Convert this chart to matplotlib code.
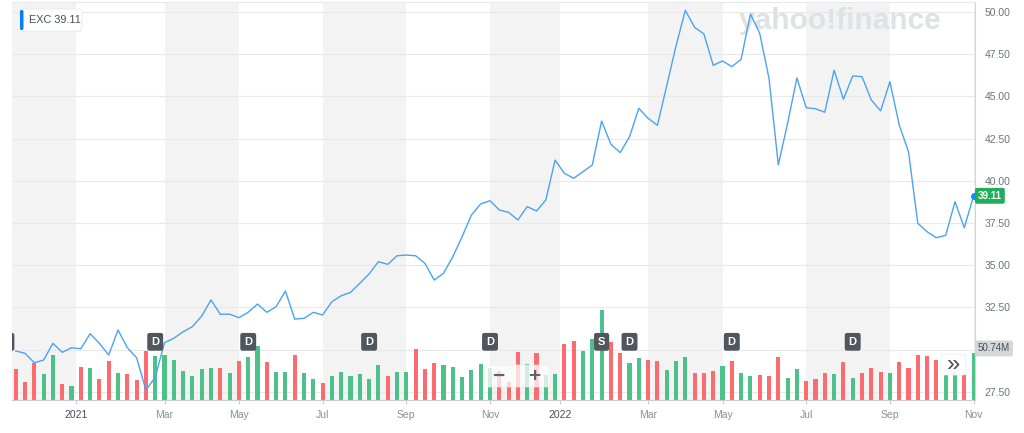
import numpy as np
import matplotlib.pyplot as plt
from matplotlib.patches import FancyBboxPatch
from matplotlib.transforms import IdentityTransform, blended_transform_factory

plt.rcParams['font.family'] = ['Liberation Sans', 'DejaVu Sans']

# weekly closes, EXC, Nov 2020 - Oct 2022
close = [29.92, 29.78, 29.22, 29.38, 30.37, 29.84, 30.11, 30.05, 30.94, 30.37,
         29.68, 31.16, 30.11, 29.52, 27.60, 28.36, 30.41, 30.67, 31.06, 31.36,
         31.99, 32.94, 32.09, 32.10, 31.89, 32.21, 32.70, 32.21, 32.54, 33.47,
         31.81, 31.85, 32.21, 32.05, 32.84, 33.19, 33.39, 33.93, 34.48, 35.21,
         35.05, 35.56, 35.60, 35.56, 35.11, 34.12, 34.52, 35.50, 36.69, 37.97,
         38.63, 38.82, 38.27, 38.13, 37.68, 38.47, 38.21, 38.86, 41.23, 40.44,
         40.15, 40.54, 40.94, 43.54, 42.16, 41.67, 42.61, 44.29, 43.70, 43.29,
         45.63, 47.99, 50.10, 49.09, 48.70, 46.84, 47.10, 46.76, 47.20, 49.88,
         48.74, 46.07, 40.94, 43.41, 46.09, 44.33, 44.27, 44.06, 46.55, 44.83,
         46.21, 46.17, 44.79, 44.14, 45.87, 43.31, 41.72, 37.48, 36.98, 36.63,
         36.77, 38.76, 37.22, 39.11]
prev_close = 30.20

# weekly volume, millions
volume = [33.7, 19.9, 40.6, 28.2, 48.9, 17.0, 15.2, 35.5, 34.4, 22.8,
          42.0, 29.0, 28.2, 21.7, 53.2, 47.5, 49.2, 43.1, 31.9, 26.1,
          33.7, 34.4, 34.8, 29.0, 42.0, 46.4, 58.7, 41.3, 30.1, 30.8,
          48.5, 29.0, 22.5, 18.8, 26.1, 30.8, 26.1, 28.2, 22.5, 38.0,
          26.1, 30.8, 30.1, 55.4, 33.7, 40.2, 38.0, 35.5, 25.4, 32.6,
          39.1, 34.4, 31.5, 19.6, 51.8, 39.1, 51.1, 27.2, 28.2, 61.2,
          63.7, 52.9, 65.9, 97.8, 63.0, 51.1, 39.8, 45.3, 43.5, 42.7,
          32.6, 42.7, 47.1, 29.0, 29.0, 31.5, 36.9, 42.7, 29.0, 26.1,
          26.8, 26.1, 47.1, 24.3, 33.3, 20.6, 22.5, 29.7, 27.9, 40.9,
          23.5, 29.7, 34.4, 30.8, 29.7, 40.9, 34.4, 49.3, 48.2, 43.5,
          27.2, 30.0, 27.2, 50.74]

tick_pos = [6.5, 16, 24, 33, 42, 51, 58.5, 68, 76, 85, 94, 103]
tick_labels = ['2021', 'Mar', 'May', 'Jul', 'Sep', 'Nov',
               '2022', 'Mar', 'May', 'Jul', 'Sep', 'Nov']
price_ticks = [27.5, 30, 32.5, 35, 37.5, 40, 42.5, 45, 47.5, 50]
div_weeks = [-1, 15, 25, 38, 51, 66, 77, 90]
split_week = 63
ticker = 'EXC'

x = np.arange(len(close))
up = np.diff(np.r_[prev_close, close]) >= 0
bar_colors = np.where(up, '#4cc28a', '#fb6b70')

W, H = 1024, 433
fig = plt.figure(figsize=(W / 100, H / 100), dpi=100, facecolor='white')
pos = [12 / W, (H - 400) / H, 963 / W, 398.5 / H]
xlim = (-0.4, 103.15)
ylim = (27.014, 50.622)

# background: month bands and price grid
axg = fig.add_axes(pos, zorder=0)
edges = [xlim[0]] + tick_pos + [xlim[1]]
for k in range(len(edges) - 1):
    if k % 2 == 0:
        axg.axvspan(edges[k], edges[k + 1], color='#f3f3f3', lw=0)
axg.set_xlim(xlim)
axg.set_ylim(ylim)
axg.set_yticks(price_ticks)
axg.set_xticks([])
axg.grid(axis='y', color='#e9e9e9', lw=0.8)
axg.tick_params(axis='y', length=0, labelleft=False)
for s in axg.spines.values():
    s.set_visible(False)

# volume panel
axv = fig.add_axes(pos, zorder=1)
axv.patch.set_alpha(0)
axv.bar(x, volume, width=0.44, color=bar_colors)
axv.set_xlim(xlim)
axv.set_ylim(0, 433)
axv.set_xticks([])
axv.set_yticks([])
for s in axv.spines.values():
    s.set_visible(False)

# price panel on top
ax = fig.add_axes(pos, zorder=2)
ax.patch.set_alpha(0)
ax.plot(x, close, color='#4ba3f3', lw=1.0, zorder=3)
ax.plot(x[-1], close[-1], 'o', ms=4, color='#1a8cf0', zorder=4)
ax.set_xlim(xlim)
ax.set_ylim(ylim)
ax.set_yticks(price_ticks, ['' if v == 30 else f'{v:.2f}' for v in price_ticks])
ax.yaxis.tick_right()
ax.tick_params(axis='y', length=0, pad=7, labelsize=7.5, labelcolor='#6e7479')
ax.set_xticks(tick_pos, tick_labels)
ax.tick_params(axis='x', length=3, color='#c9cdd2', labelsize=7.5,
               labelcolor='#8b9095', pad=4)
for lbl in ax.get_xticklabels():
    if lbl.get_text().isdigit():
        lbl.set_color('#464e56')
ax.spines['left'].set_visible(False)
ax.spines['top'].set_color('#e6e8eb')
ax.spines['right'].set_color('#cfd3d8')
ax.spines['bottom'].set_color('#c9cdd2')

# dividend / split markers
tr = blended_transform_factory(ax.transData, ax.transAxes)
for w, ch in [(w, 'D') for w in div_weeks] + [(split_week, 'S')]:
    ax.text(w, 0.146, ch, transform=tr, ha='center', va='center', fontsize=8,
            fontweight='bold', color='white', clip_on=True, zorder=5,
            bbox=dict(boxstyle='round,pad=0.35,rounding_size=0.2',
                      fc='#50565d', ec='none'))

# last price / last volume tags
trp = blended_transform_factory(ax.transAxes, ax.transData)
ax.text(1.003, close[-1], f'{close[-1]:.2f}', transform=trp, ha='left',
        va='center', fontsize=7, fontweight='bold', color='white', clip_on=False,
        bbox=dict(boxstyle='round,pad=0.3,rounding_size=0.2', fc='#1fae5b', ec='none'))
trv = blended_transform_factory(axv.transAxes, axv.transData)
axv.annotate(f'{volume[-1]:.2f}M', xy=(1.003, volume[-1]), xycoords=trv,
             xytext=(0, 3.5), textcoords='offset points', ha='left', va='center',
             fontsize=7, color='#464e56', annotation_clip=False,
             bbox=dict(boxstyle='round,pad=0.3,rounding_size=0.2', fc='#d3d6db', ec='none'))

# overlays in pixel space
pix = IdentityTransform()
fig.add_artist(FancyBboxPatch((20, H - 32), 62, 22, boxstyle='round,pad=0,rounding_size=3',
                              transform=pix, fc='#eef0f2', ec='none', zorder=5))
fig.add_artist(FancyBboxPatch((20, H - 31), 62, 22, boxstyle='round,pad=0,rounding_size=3',
                              transform=pix, fc='white', ec='#e8eaed', lw=0.6, zorder=6))
fig.add_artist(FancyBboxPatch((20, H - 30), 3.5, 20, boxstyle='round,pad=0,rounding_size=1.5',
                              transform=pix, fc='#0081f2', ec='none', zorder=7))
fig.text(29 / W, (H - 20) / H, f'{ticker} {close[-1]:.2f}', va='center', fontsize=7.8,
         color='#464e56', zorder=7)

fig.text(739 / W, (H - 21) / H, 'yahoo!finance', fontsize=21.5, fontweight='bold',
         color='#dfe1e5', va='center', zorder=0.5)

fig.add_artist(FancyBboxPatch((484, H - 387), 66, 22, boxstyle='round,pad=0,rounding_size=3',
                              transform=pix, fc='white', alpha=0.75, ec='#e8eaed', lw=0.6, zorder=6))
fig.text(498 / W, (H - 376) / H, '\u2212', ha='center', va='center', fontsize=15,
         color='#5b636a', fontweight='bold', zorder=7)
fig.text(534 / W, (H - 376) / H, '+', ha='center', va='center', fontsize=15,
         color='#5b636a', fontweight='bold', zorder=7)

fig.add_artist(FancyBboxPatch((941, H - 375), 25, 21, boxstyle='round,pad=0,rounding_size=3',
                              transform=pix, fc='white', alpha=0.9, ec='#e8eaed', lw=0.6, zorder=6))
fig.text(953.5 / W, (H - 365) / H, '\u00bb', ha='center', va='center', fontsize=17,
         color='#464e56', zorder=7)

fig.savefig('out.png', dpi=100)
